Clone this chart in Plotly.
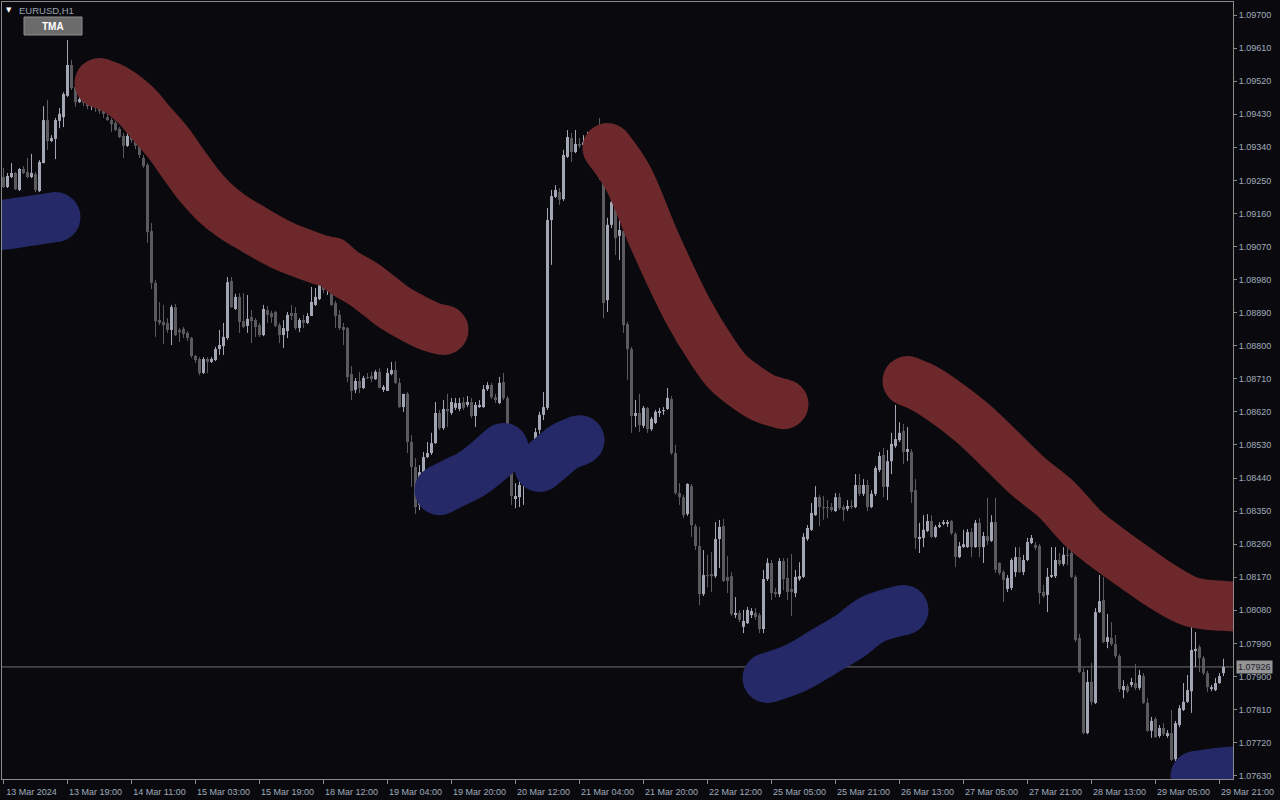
import plotly.graph_objects as go

# ---------------- DATA (prices in points, 1 point = 0.00001) ----------------
open_pts = [
    109259, 109232, 109259, 109270, 109224, 109281, 109273, 109259, 109267, 109221,
    109297, 109414, 109357, 109363, 109412, 109422, 109480, 109564, 109504, 109463,
    109471, 109461, 109452, 109458, 109447, 109439, 109422, 109414, 109406, 109390,
    109371, 109344, 109371, 109360, 109344, 109311, 109292, 109112, 108971, 108870,
    108865, 108862, 108843, 108905, 108843, 108846, 108835, 108821, 108772, 108764,
    108726, 108764, 108756, 108761, 108791, 108799, 108821, 108976, 108900, 108933,
    108867, 108854, 108878, 108870, 108856, 108829, 108897, 108889, 108892, 108856,
    108829, 108840, 108889, 108889, 108848, 108870, 108862, 108881, 108911, 108927,
    108968, 108952, 108957, 108916, 108884, 108851, 108848, 108723, 108680, 108704,
    108685, 108715, 108718, 108709, 108729, 108680, 108677, 108723, 108734, 108699,
    108633, 108669, 108538, 108470, 108367, 108456, 108497, 108508, 108535, 108617,
    108576, 108628, 108617, 108631, 108628, 108647, 108639, 108647, 108609, 108633,
    108633, 108682, 108693, 108660, 108644, 108701, 108658, 108489, 108383, 108388,
    108421, 108435, 108475, 108516, 108571, 108612, 108631, 109142, 109205, 109218,
    109199, 109314, 109365, 109327, 109349, 109346, 109354, 109360, 109346, 109333,
    109259, 108924, 109129, 109191, 109099, 109112, 108859, 108791, 108609, 108617,
    108582, 108631, 108573, 108590, 108617, 108622, 108628, 108655, 108508, 108399,
    108388, 108342, 108418, 108309, 108255, 108124, 108176, 108179, 108173, 108274,
    108309, 108171, 108173, 108067, 108073, 108035, 108045, 108067, 108073, 108067,
    108029, 108165, 108209, 108130, 108124, 108214, 108168, 108138, 108127, 108165,
    108171, 108274, 108299, 108339, 108388, 108361, 108361, 108361, 108350, 108388,
    108361, 108356, 108364, 108361, 108421, 108397, 108421, 108361, 108397, 108462,
    108503, 108416, 108486, 108527, 108543, 108568, 108511, 108511, 108407, 108274,
    108277, 108296, 108323, 108280, 108307, 108315, 108315, 108323, 108288, 108225,
    108252, 108252, 108293, 108252, 108318, 108252, 108282, 108269, 108320, 108209,
    108184, 108138, 108141, 108184, 108225, 108184, 108217, 108263, 108258, 108255,
    108130, 108122, 108171, 108173, 108217, 108206, 108231, 108236, 108171, 108005,
    107912, 107746, 107885, 107828, 108075, 108108, 107994, 108005, 107988, 107956,
    107863, 107874, 107877, 107882, 107869, 107901, 107828, 107752, 107784, 107738,
    107760, 107738, 107746, 107675, 107768, 107809, 107831, 107860, 107969, 107980,
    107950, 107909, 107866, 107863, 107882, 107909,
]
high_pts = [
    109284, 109270, 109297, 109273, 109284, 109289, 109311, 109322, 109273, 109305,
    109452, 109469, 109373, 109420, 109447, 109490, 109632, 109578, 109510, 109477,
    109477, 109469, 109466, 109463, 109452, 109444, 109436, 109420, 109412, 109395,
    109379, 109382, 109376, 109365, 109349, 109319, 109297, 109134, 108979, 108919,
    108911, 108875, 108911, 108914, 108848, 108851, 108840, 108824, 108775, 108769,
    108769, 108769, 108769, 108797, 108843, 108862, 108987, 108987, 108941, 108943,
    108943, 108938, 108897, 108875, 108862, 108911, 108908, 108895, 108895, 108862,
    108870, 108892, 108911, 108905, 108875, 108884, 108889, 108960, 108957, 108979,
    108979, 108971, 108965, 108922, 108897, 108862, 108851, 108745, 108712, 108729,
    108718, 108726, 108729, 108734, 108739, 108693, 108739, 108756, 108758, 108712,
    108669, 108674, 108557, 108494, 108475, 108511, 108538, 108563, 108647, 108625,
    108652, 108669, 108658, 108658, 108658, 108660, 108663, 108658, 108647, 108652,
    108693, 108701, 108699, 108669, 108715, 108726, 108663, 108503, 108426, 108435,
    108462, 108489, 108530, 108576, 108620, 108674, 109175, 109224, 109237, 109229,
    109333, 109387, 109379, 109387, 109365, 109373, 109382, 109373, 109365, 109420,
    109278, 109148, 109218, 109202, 109164, 109120, 108865, 108797, 108652, 108669,
    108636, 108633, 108606, 108625, 108631, 108633, 108685, 108663, 108530, 108426,
    108394, 108426, 108424, 108315, 108307, 108244, 108231, 108239, 108320, 108326,
    108329, 108228, 108184, 108116, 108081, 108081, 108089, 108086, 108086, 108073,
    108190, 108222, 108217, 108141, 108222, 108222, 108222, 108233, 108190, 108211,
    108290, 108312, 108372, 108418, 108394, 108391, 108380, 108372, 108399, 108399,
    108367, 108380, 108380, 108451, 108451, 108437, 108435, 108407, 108473, 108511,
    108522, 108516, 108563, 108639, 108592, 108587, 108579, 108519, 108437, 108318,
    108339, 108342, 108339, 108312, 108320, 108326, 108326, 108326, 108293, 108266,
    108299, 108301, 108304, 108326, 108331, 108293, 108386, 108339, 108386, 108211,
    108190, 108176, 108222, 108252, 108252, 108231, 108277, 108285, 108266, 108260,
    108149, 108195, 108252, 108252, 108236, 108252, 108252, 108250, 108176, 108016,
    107923, 107918, 107937, 108086, 108176, 108171, 108070, 108048, 108013, 107961,
    107890, 107880, 107896, 107934, 107918, 107909, 107841, 107790, 107790, 107768,
    107773, 107754, 107809, 107779, 107822, 107882, 107904, 108035, 108021, 107986,
    107956, 107915, 107877, 107896, 107909, 107948,
]
low_pts = [
    109229, 109229, 109256, 109224, 109221, 109267, 109256, 109256, 109218, 109218,
    109297, 109333, 109354, 109308, 109392, 109395, 109477, 109496, 109450, 109461,
    109452, 109444, 109441, 109436, 109431, 109420, 109412, 109382, 109384, 109365,
    109311, 109341, 109352, 109335, 109311, 109284, 109080, 108954, 108824, 108856,
    108805, 108835, 108802, 108826, 108810, 108821, 108813, 108767, 108753, 108720,
    108723, 108726, 108753, 108758, 108775, 108775, 108816, 108903, 108897, 108835,
    108848, 108835, 108807, 108824, 108824, 108826, 108862, 108862, 108851, 108807,
    108794, 108821, 108870, 108843, 108837, 108848, 108859, 108881, 108908, 108924,
    108943, 108938, 108908, 108848, 108843, 108802, 108701, 108652, 108671, 108671,
    108682, 108709, 108701, 108707, 108685, 108674, 108677, 108720, 108696, 108631,
    108620, 108508, 108416, 108342, 108353, 108451, 108494, 108503, 108533, 108571,
    108571, 108579, 108612, 108625, 108622, 108625, 108633, 108603, 108579, 108631,
    108631, 108677, 108655, 108644, 108641, 108652, 108484, 108367, 108358, 108361,
    108367, 108421, 108462, 108503, 108560, 108598, 108625, 109020, 109202, 109183,
    109194, 109311, 109300, 109324, 109338, 109333, 109341, 109333, 109319, 109251,
    108875, 108892, 109120, 109047, 109033, 108835, 108707, 108563, 108579, 108565,
    108576, 108563, 108568, 108587, 108606, 108612, 108625, 108503, 108394, 108367,
    108331, 108337, 108280, 108244, 108094, 108119, 108143, 108130, 108168, 108195,
    108157, 108127, 108065, 108059, 108048, 108018, 108043, 108059, 108054, 108018,
    108018, 108160, 108108, 108116, 108116, 108135, 108108, 108065, 108116, 108160,
    108168, 108269, 108296, 108337, 108309, 108326, 108331, 108348, 108348, 108353,
    108323, 108350, 108356, 108358, 108391, 108391, 108350, 108358, 108391, 108456,
    108388, 108380, 108451, 108522, 108538, 108478, 108486, 108372, 108247, 108236,
    108252, 108293, 108277, 108277, 108304, 108312, 108307, 108285, 108198, 108222,
    108250, 108250, 108225, 108250, 108225, 108209, 108258, 108266, 108182, 108176,
    108103, 108130, 108135, 108171, 108182, 108176, 108214, 108260, 108244, 108097,
    108114, 108075, 108168, 108168, 108201, 108201, 108203, 108168, 107994, 107909,
    107743, 107743, 107822, 107825, 108073, 107991, 107977, 107983, 107950, 107858,
    107841, 107855, 107871, 107863, 107863, 107825, 107749, 107733, 107733, 107733,
    107738, 107733, 107670, 107670, 107762, 107806, 107828, 107801, 107926, 107912,
    107904, 107858, 107860, 107860, 107880, 107901,
]
close_pts = [
    109232, 109262, 109270, 109226, 109281, 109270, 109259, 109270, 109224, 109300,
    109414, 109357, 109365, 109414, 109431, 109485, 109564, 109501, 109463, 109471,
    109461, 109452, 109458, 109447, 109439, 109431, 109414, 109403, 109387, 109368,
    109344, 109371, 109360, 109344, 109319, 109289, 109109, 108971, 108867, 108862,
    108856, 108843, 108905, 108829, 108837, 108832, 108821, 108772, 108761, 108726,
    108764, 108756, 108764, 108791, 108802, 108824, 108973, 108905, 108933, 108865,
    108851, 108873, 108867, 108851, 108829, 108900, 108884, 108878, 108854, 108829,
    108848, 108884, 108881, 108848, 108870, 108862, 108881, 108919, 108933, 108968,
    108952, 108957, 108911, 108881, 108848, 108843, 108715, 108677, 108704, 108685,
    108712, 108712, 108709, 108729, 108685, 108688, 108726, 108734, 108699, 108633,
    108669, 108538, 108470, 108361, 108456, 108497, 108508, 108535, 108617, 108576,
    108628, 108622, 108647, 108644, 108644, 108631, 108647, 108609, 108639, 108639,
    108682, 108693, 108660, 108652, 108699, 108658, 108489, 108391, 108391, 108421,
    108435, 108475, 108516, 108565, 108612, 108633, 109142, 109207, 109224, 109197,
    109319, 109368, 109327, 109349, 109344, 109354, 109360, 109346, 109333, 109262,
    108916, 109129, 109191, 109093, 109115, 108856, 108791, 108609, 108617, 108584,
    108631, 108573, 108601, 108620, 108622, 108625, 108658, 108508, 108399, 108388,
    108339, 108424, 108312, 108255, 108124, 108176, 108173, 108173, 108274, 108307,
    108160, 108160, 108070, 108073, 108054, 108051, 108081, 108078, 108062, 108029,
    108165, 108209, 108127, 108124, 108214, 108165, 108130, 108130, 108171, 108173,
    108280, 108304, 108345, 108388, 108361, 108358, 108358, 108353, 108388, 108358,
    108353, 108364, 108361, 108421, 108397, 108421, 108361, 108397, 108467, 108500,
    108416, 108486, 108533, 108546, 108563, 108511, 108519, 108402, 108277, 108280,
    108299, 108323, 108280, 108307, 108312, 108320, 108320, 108290, 108225, 108255,
    108260, 108293, 108252, 108318, 108252, 108282, 108269, 108320, 108190, 108182,
    108163, 108168, 108217, 108225, 108184, 108217, 108266, 108277, 108250, 108127,
    108119, 108171, 108176, 108217, 108206, 108231, 108228, 108171, 107999, 107912,
    107746, 107885, 107831, 108075, 108105, 107994, 108007, 107988, 107956, 107866,
    107874, 107860, 107885, 107869, 107904, 107828, 107752, 107779, 107735, 107760,
    107743, 107746, 107673, 107773, 107814, 107831, 107863, 107972, 107975, 107950,
    107909, 107871, 107871, 107882, 107901, 107926,
]

# TMA indicator segments (bar index, value in points); "up" = blue, "down" = red
tma_segments = [
    ("up",   [-8, 0, 6, 13], [109118, 109129, 109139, 109150]),
    ("down", [24, 28, 33, 37, 41, 45, 49, 53, 57, 62, 69, 75, 80],
             [109515, 109497, 109455, 109405, 109355, 109294, 109235, 109188, 109153, 109120, 109077, 109050, 109031]),
    ("down", [82, 85, 90, 94, 98, 102, 107, 110],
             [109028, 109000, 108968, 108935, 108902, 108877, 108851, 108843]),
    ("up",   [109, 112, 117, 121, 125], [108407, 108424, 108451, 108484, 108522]),
    ("up",   [134, 137, 140, 144], [108470, 108497, 108524, 108543]),
    ("down", [151, 156, 163, 171, 177, 181, 185, 190, 195],
             [109338, 109259, 109080, 108897, 108788, 108729, 108693, 108658, 108641]),
    ("up",   [191, 198, 205, 212, 217, 225], [107896, 107923, 107967, 108013, 108054, 108081]),
    ("down", [226, 230, 234, 242, 249, 256, 263, 270, 275, 283, 290, 297, 305, 312],
             [108704, 108685, 108658, 108592, 108520, 108446, 108384, 108302, 108258, 108195, 108143, 108103, 108092, 108089]),
    ("up",   [298, 306, 312], [107629, 107640, 107643]),
]

# time-axis labels (one every 16 H1 bars, starting at bar 0)
time_label_step = 16
time_labels = ["13 Mar 2024", "13 Mar 19:00", "14 Mar 11:00", "15 Mar 03:00", "15 Mar 19:00",
               "18 Mar 12:00", "19 Mar 04:00", "19 Mar 20:00", "20 Mar 12:00", "21 Mar 04:00",
               "21 Mar 20:00", "22 Mar 12:00", "25 Mar 05:00", "25 Mar 21:00", "26 Mar 13:00",
               "27 Mar 05:00", "27 Mar 21:00", "28 Mar 13:00", "29 Mar 05:00", "29 Mar 21:00"]
price_ticks = ["1.07630", "1.07720", "1.07810", "1.07900", "1.07990", "1.08080", "1.08170",
               "1.08260", "1.08350", "1.08440", "1.08530", "1.08620", "1.08710", "1.08800",
               "1.08890", "1.08980", "1.09070", "1.09160", "1.09250", "1.09340", "1.09430",
               "1.09520", "1.09610", "1.09700"]

symbol_label = "EURUSD,H1"
indicator_label = "TMA"

# ---------------- STYLE ----------------
BG = "#0A0A0E"
BULL = "#A3A6B4"
BEAR = "#5B5B5F"
TMA_UP = "#252968"
TMA_DOWN = "#6C282B"
AXIS = "#8A8A8A"
TXT = "#A0AABB"
FONT = "Liberation Sans"
TMA_W = 50

K = 1e5
n = min(len(open_pts), len(high_pts), len(low_pts), len(close_pts))
O = [v / K for v in open_pts[:n]]
H = [v / K for v in high_pts[:n]]
L = [v / K for v in low_pts[:n]]
C = [v / K for v in close_pts[:n]]

fig = go.Figure()

min_body = 0.00003  # a doji still shows a 1px body
for is_bull, col in ((True, BULL), (False, BEAR)):
    sel = [i for i in range(n) if (C[i] >= O[i]) == is_bull]
    wx, wy = [], []
    for i in sel:
        wx += [i, i, None]
        wy += [L[i], H[i], None]
    fig.add_trace(go.Scatter(x=wx, y=wy, mode="lines", line=dict(color=col, width=1),
                             hoverinfo="skip", showlegend=False))
    fig.add_trace(go.Bar(x=sel,
                         base=[min(O[i], C[i]) for i in sel],
                         y=[max(abs(C[i] - O[i]), min_body) for i in sel],
                         width=0.75, marker=dict(color=col, line=dict(width=0)),
                         hoverinfo="skip", showlegend=False))

for kind, bars, vals in tma_segments:
    col = TMA_UP if kind == "up" else TMA_DOWN
    ys = [v / K for v in vals]
    fig.add_trace(go.Scatter(
        x=bars, y=ys, mode="lines",
        line=dict(color=col, width=TMA_W, shape="spline", smoothing=1.0),
        hoverinfo="skip", showlegend=False))
    # round end caps
    fig.add_trace(go.Scatter(
        x=[bars[0], bars[-1]], y=[ys[0], ys[-1]], mode="markers",
        marker=dict(size=TMA_W, color=col, opacity=1, line=dict(width=0)),
        hoverinfo="skip", showlegend=False))

last = C[-1]

W, Hh = 1280, 800
ml, mr, mt, mb = 2, 47, 2, 21
plot_w = W - ml - mr
bar_px = 4
x0 = -0.375
x1 = x0 + plot_w / bar_px

px_per_unit = 36749.0
plot_h = Hh - mt - mb
y_top_price = float(price_ticks[-1]) + 13 / px_per_unit
y_bot_price = y_top_price - plot_h / px_per_unit

fig.update_layout(
    width=W, height=Hh,
    margin=dict(l=ml, r=mr, t=mt, b=mb, pad=0),
    paper_bgcolor=BG, plot_bgcolor=BG,
    barmode="overlay",
    showlegend=False,
    hovermode=False,
    font=dict(family=FONT, size=9, color=TXT),
    xaxis=dict(
        range=[x0, x1], showgrid=False, zeroline=False,
        showline=True, linecolor=AXIS, linewidth=1, mirror=True,
        tickmode="array",
        tickvals=[k * time_label_step for k in range(len(time_labels))],
        ticktext=time_labels,
        ticks="outside", ticklen=4, tickcolor=AXIS, tickwidth=1,
        tickfont=dict(family=FONT, size=9, color=TXT),
        ticklabelshift=28, ticklabelstandoff=0,
        fixedrange=True,
    ),
    yaxis=dict(
        range=[y_bot_price, y_top_price], side="right",
        showgrid=False, zeroline=False,
        showline=True, linecolor=AXIS, linewidth=1, mirror=True,
        tickmode="array",
        tickvals=[float(t) for t in price_ticks], ticktext=price_ticks,
        ticks="outside", ticklen=3, tickcolor=AXIS, tickwidth=1,
        tickfont=dict(family=FONT, size=9, color=TXT),
        fixedrange=True,
    ),
    shapes=[
        dict(type="line", xref="paper", yref="y", x0=0, x1=1, y0=last, y1=last,
             line=dict(color="#707070", width=1), layer="below"),
        dict(type="rect", xref="paper", yref="paper",
             x0=(24 - ml) / plot_w, x1=(82 - ml) / plot_w,
             y0=1 - (35 - mt) / plot_h, y1=1 - (17 - mt) / plot_h,
             fillcolor="#6B6B6B", line=dict(color="#8E8E8E", width=1), layer="above"),
    ],
    annotations=[
        dict(xref="paper", yref="paper", x=0, y=1, xanchor="left", yanchor="middle",
             xshift=2, yshift=-8, text="▼", showarrow=False,
             font=dict(family="DejaVu Sans", size=7, color="#FFFFFF")),
        dict(xref="paper", yref="paper", x=0, y=1, xanchor="left", yanchor="middle",
             xshift=15, yshift=-8, text=symbol_label, showarrow=False,
             font=dict(family=FONT, size=9.5, color="#9AA4B4")),
        dict(xref="paper", yref="paper", x=(53 - ml) / plot_w, y=1 - (26 - mt) / plot_h,
             xanchor="center", yanchor="middle", text="<b>" + indicator_label + "</b>",
             showarrow=False, font=dict(family=FONT, size=10, color="#FFFFFF")),
        dict(xref="paper", yref="y", x=1, y=last, xanchor="left", yanchor="middle",
             xshift=3, text=f"{last:.5f}", showarrow=False, bgcolor="#959595",
             borderpad=1, font=dict(family=FONT, size=9, color="#1A1F2E")),
    ],
)

fig.write_html(
    "out.html",
    config={"displayModeBar": False, "staticPlot": True},
    post_script="document.body.style.margin='0px';document.body.style.overflow='hidden';",
)
